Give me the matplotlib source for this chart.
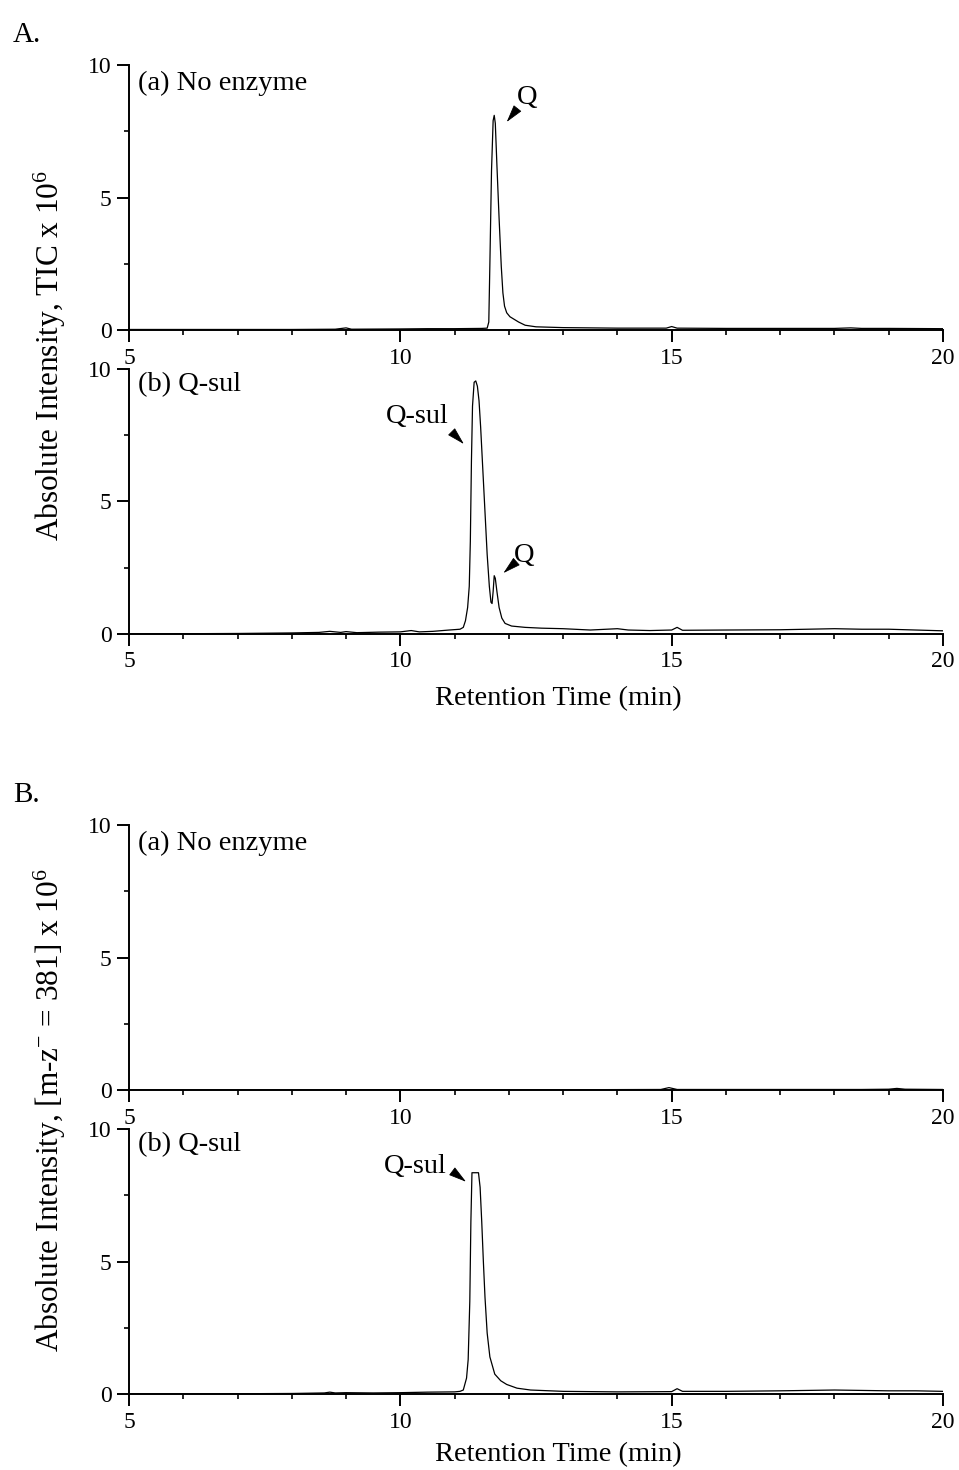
import matplotlib
matplotlib.use("Agg")
import matplotlib.pyplot as plt
from matplotlib.ticker import MultipleLocator

plt.rcParams['font.family'] = ['Liberation Serif', 'DejaVu Serif']
plt.rcParams['mathtext.fontset'] = 'custom'
plt.rcParams['mathtext.rm'] = 'Liberation Serif'
plt.rcParams['mathtext.it'] = 'Liberation Serif:italic'
plt.rcParams['mathtext.default'] = 'regular'

# ---- chromatogram traces (retention time in min, intensity x 10^6) ----
tic_noenz_t = [5.0, 6.0, 7.0, 8.0, 8.8, 9.0, 9.1, 10.0, 10.5, 11.0, 11.5, 11.60,
               11.63, 11.65, 11.68, 11.71, 11.73, 11.75, 11.78, 11.82, 11.86,
               11.89, 11.92, 11.96, 12.02, 12.10, 12.18, 12.3, 12.5, 13.0, 14.0,
               14.9, 15.0, 15.1, 16.0, 17.0, 18.0, 18.3, 18.5, 19.0, 20.0]
tic_noenz_i = [0.02, 0.02, 0.02, 0.02, 0.03, 0.08, 0.03, 0.04, 0.05, 0.05, 0.06, 0.07,
               0.3, 2.5, 6.0, 7.9, 8.1, 7.8, 6.2, 4.2, 2.4,
               1.4, 0.9, 0.65, 0.5, 0.4, 0.3, 0.18, 0.12, 0.09, 0.07,
               0.07, 0.13, 0.07, 0.06, 0.06, 0.06, 0.08, 0.06, 0.06, 0.05]

tic_qsul_t = [5.0, 6.0, 7.0, 8.0, 8.5, 8.7, 8.9, 9.0, 9.2, 9.6, 10.0, 10.2, 10.35,
              10.6, 10.9, 11.10, 11.16, 11.20, 11.24, 11.27, 11.29, 11.31, 11.33,
              11.36, 11.39, 11.42, 11.45, 11.48, 11.52, 11.56, 11.60, 11.64,
              11.67, 11.69, 11.71, 11.73, 11.75, 11.78, 11.82, 11.87, 11.93,
              12.05, 12.3, 12.6, 13.0, 13.5, 14.0, 14.2, 14.6, 15.0, 15.1, 15.2,
              16.0, 17.0, 18.0, 18.5, 19.0, 19.5, 20.0]
tic_qsul_i = [0.0, 0.01, 0.02, 0.04, 0.06, 0.1, 0.06, 0.09, 0.05, 0.07, 0.08, 0.13, 0.08,
              0.1, 0.15, 0.18, 0.25, 0.5, 1.0, 1.8, 3.5, 6.5, 8.6,
              9.5, 9.55, 9.35, 8.8, 7.8, 6.2, 4.6, 3.0, 1.8,
              1.2, 1.15, 1.6, 2.2, 2.1, 1.6, 1.0, 0.6, 0.4,
              0.3, 0.25, 0.22, 0.2, 0.15, 0.2, 0.15, 0.13, 0.15, 0.25, 0.14,
              0.15, 0.16, 0.2, 0.18, 0.18, 0.15, 0.12]

ion_noenz_t = [5.0, 7.0, 9.0, 11.0, 13.0, 14.8, 14.95, 15.1, 17.0, 18.5, 19.0, 19.15, 19.3, 20.0]
ion_noenz_i = [0.0, 0.0, 0.01, 0.01, 0.01, 0.02, 0.09, 0.02, 0.02, 0.02, 0.03, 0.06, 0.03, 0.02]

ion_qsul_t = [5.0, 6.0, 7.0, 8.0, 8.6, 8.7, 8.8, 9.0, 9.5, 10.0, 10.5, 11.0, 11.10,
              11.16, 11.22, 11.25, 11.28, 11.30, 11.32, 11.44, 11.47, 11.50,
              11.53, 11.56, 11.60, 11.65, 11.74, 11.85, 11.96, 12.15, 12.4,
              13.0, 14.0, 15.0, 15.1, 15.2, 16.0, 17.0, 18.0, 19.0, 19.5, 20.0]
ion_qsul_i = [0.0, 0.0, 0.01, 0.02, 0.04, 0.07, 0.04, 0.05, 0.04, 0.05, 0.07, 0.08, 0.1,
              0.15, 0.6, 1.3, 3.5, 6.5, 8.35, 8.35, 7.8, 6.5,
              5.0, 3.65, 2.3, 1.4, 0.75, 0.5, 0.36, 0.22, 0.15,
              0.1, 0.08, 0.09, 0.2, 0.1, 0.1, 0.12, 0.15, 0.12, 0.12, 0.1]

x_ticks = [5, 10, 15, 20]
y_ticks = [0, 5, 10]

BIG = 20.5
YLAB = 22.5
SMALL = 17

fig = plt.figure(figsize=(9.59, 14.7), dpi=100)

left, width, height = 0.13452, 0.84880, 0.18027
bottoms = [0.77551, 0.56871, 0.25850, 0.05170]


def style_axes(ax):
    ax.set_xlim(5, 20)
    ax.set_ylim(0, 10)
    ax.set_xticks(x_ticks)
    ax.set_yticks(y_ticks)
    ax.xaxis.set_minor_locator(MultipleLocator(1))
    ax.yaxis.set_minor_locator(MultipleLocator(2.5))
    for s in ('top', 'right'):
        ax.spines[s].set_visible(False)
    for s in ('left', 'bottom'):
        ax.spines[s].set_linewidth(1.4)
    ax.tick_params(which='major', direction='out', length=8.6, width=1.4,
                   labelsize=SMALL, pad=4)
    ax.tick_params(which='minor', direction='out', length=3.6, width=1.2)
    ax.patch.set_alpha(0)


def arrow(ax, tail, tip):
    ax.annotate('', xy=tip, xytext=tail,
                arrowprops=dict(arrowstyle='-|>,head_length=0.8,head_width=0.22',
                                mutation_scale=14, color='black', lw=0.6,
                                shrinkA=0, shrinkB=0))


traces = [(tic_noenz_t, tic_noenz_i, '(a) No enzyme', 0.93),
          (tic_qsul_t, tic_qsul_i, '(b) Q-sul', 0.94),
          (ion_noenz_t, ion_noenz_i, '(a) No enzyme', 0.93),
          (ion_qsul_t, ion_qsul_i, '(b) Q-sul', 0.94)]

axes = []
for (t, y, lab, ly), b in zip(traces, bottoms):
    ax = fig.add_axes([left, b, width, height])
    ax.plot(t, y, color='black', lw=0.9)
    style_axes(ax)
    ax.text(0.011, ly, lab, transform=ax.transAxes, fontsize=BIG,
            ha='left', va='center')
    axes.append(ax)

# peak labels
axes[0].text(12.33, 8.76, 'Q', fontsize=BIG, ha='center', va='center')
arrow(axes[0], (12.15, 8.34), (11.96, 7.85))

axes[1].text(10.32, 8.21, 'Q-sul', fontsize=BIG, ha='center', va='center')
arrow(axes[1], (10.97, 7.58), (11.17, 7.17))
axes[1].text(12.28, 2.98, 'Q', fontsize=BIG, ha='center', va='center')
arrow(axes[1], (12.11, 2.68), (11.90, 2.30))

axes[3].text(10.28, 8.6, 'Q-sul', fontsize=BIG, ha='center', va='center')
arrow(axes[3], (10.99, 8.35), (11.21, 8.01))

# section letters, shared axis titles
fig.text(13 / 959, 1 - 35 / 1470, 'A.', fontsize=21, ha='left', va='center')
fig.text(13 / 959, 1 - 795 / 1470, 'B.', fontsize=21, ha='left', va='center')

fig.text(50 / 959, 1 - 355 / 1470, r'Absolute Intensity, TIC x 10$^{6}$',
         rotation=90, fontsize=YLAB, ha='center', va='center')
fig.text(50 / 959, 1 - 1110 / 1470, r'Absolute Intensity, [m-z$^{-}$ = 381] x 10$^{6}$',
         rotation=90, fontsize=YLAB, ha='center', va='center')

fig.text(558 / 959, 1 - 699 / 1470, 'Retention Time (min)', fontsize=BIG,
         ha='center', va='center')
fig.text(558 / 959, 1 - 1455 / 1470, 'Retention Time (min)', fontsize=BIG,
         ha='center', va='center')

fig.savefig('out.png', dpi=100)
